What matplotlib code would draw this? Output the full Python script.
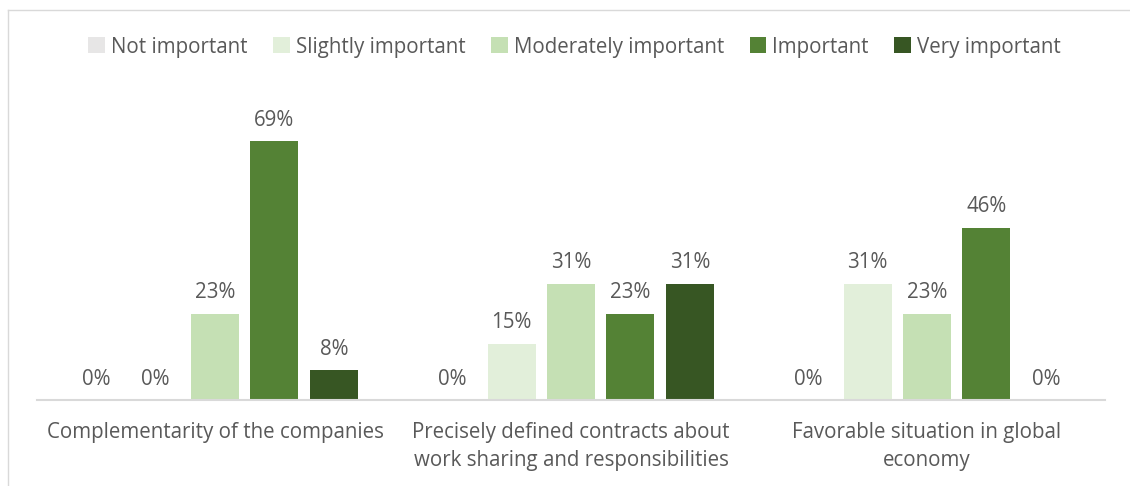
import matplotlib
matplotlib.use("Agg")
import matplotlib.pyplot as plt
import numpy as np
from matplotlib.patches import Patch
from matplotlib.lines import Line2D

categories = ["Complementarity of the companies",
              "Precisely defined contracts about\nwork sharing and responsibilities",
              "Favorable situation in global\neconomy"]
series = ["Not important", "Slightly important", "Moderately important", "Important", "Very important"]
values = [
    [0, 0, 0],      # Not important
    [0, 15, 31],    # Slightly important
    [23, 31, 23],   # Moderately important
    [69, 23, 46],   # Important
    [8, 31, 0],     # Very important
]
colors = ["#e7e6e6", "#e2efda", "#c5e0b4", "#548235", "#375623"]

plt.rcParams['font.family'] = ['Open Sans', 'DejaVu Sans']
txt = "#595959"
fs = 14.8

fig = plt.figure(figsize=(11.3, 4.86), dpi=100)
ax = fig.add_axes([37/1130, 1-400/486, (1105-37)/1130, 300/486])

x = np.arange(len(categories))
slot = 0.1668
bw = 0.135
for i, (s, vals, c) in enumerate(zip(series, values, colors)):
    pos = x + (i - 2) * slot
    ax.bar(pos, vals, width=bw, color=c, label=s)
    for p, v in zip(pos, vals):
        ax.text(p, v + 2.8, f"{v}%", ha="center", va="bottom", fontsize=fs, color=txt)

ax.set_xlim(-0.5, 2.5)
ax.set_ylim(0, 80)
ax.set_yticks([])
ax.set_xticks(x)
ax.set_xticklabels(categories, fontsize=fs, color=txt, linespacing=1.45)
ax.tick_params(axis='x', length=0, pad=16)
for sp in ["top", "right", "left"]:
    ax.spines[sp].set_visible(False)
ax.spines["bottom"].set_color("#d9d9d9")
ax.spines["bottom"].set_linewidth(1.5)

handles = [Patch(facecolor=c, edgecolor='none') for c in colors]
fig.legend(handles, series, loc="center", bbox_to_anchor=(0.5085, 1-47/486), ncol=5,
           frameon=False, fontsize=fs, labelcolor=txt, handlelength=0.8, handleheight=0.8,
           handletextpad=0.3, columnspacing=1.25)

# chart frame
fig.add_artist(Line2D([8/1130, 8/1130], [0, 1-10/486], transform=fig.transFigure, color="#d9d9d9", lw=1))
fig.add_artist(Line2D([8/1130, 1], [1-10/486, 1-10/486], transform=fig.transFigure, color="#d9d9d9", lw=1))

fig.savefig("out.png", dpi=100)
